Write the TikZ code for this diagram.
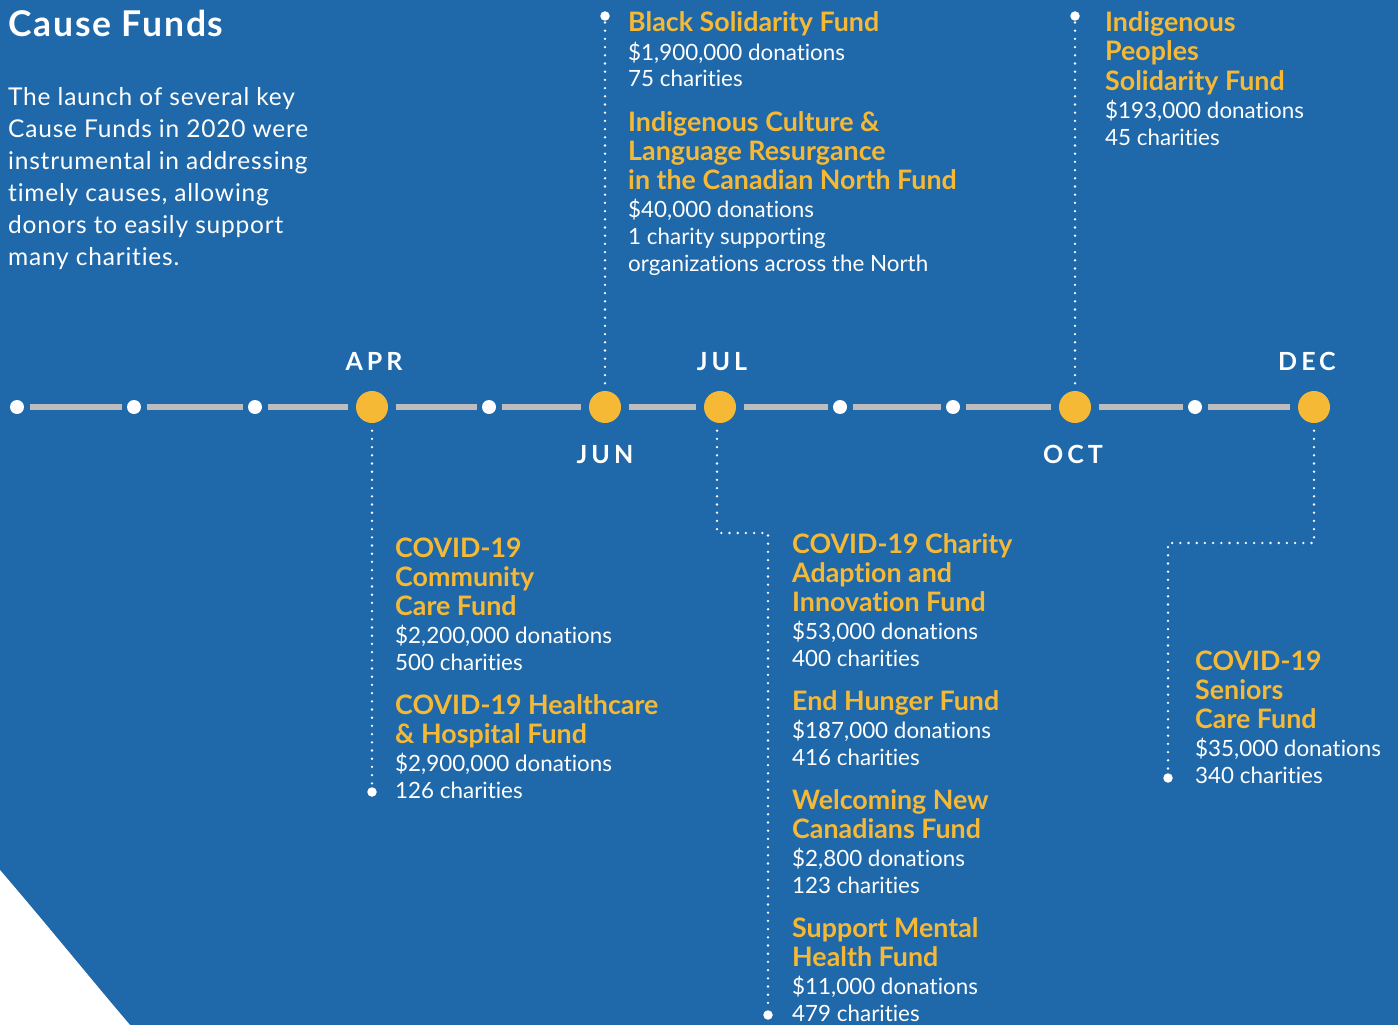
\documentclass[tikz,border=0pt]{standalone}
\usepackage{fontspec}
\setmainfont{Lato}[Ligatures=NoCommon]
\usepackage{tikz}
\definecolor{cfblue}{HTML}{1F68A9}
\definecolor{cfyellow}{HTML}{F5B935}
\definecolor{cfgray}{HTML}{BDBDBD}
\tikzset{
	wdot/.style={circle, fill=white, minimum size=14pt, inner sep=0pt, outer sep=5.5pt},
	ydot/.style={circle, fill=cfyellow, minimum size=32pt, inner sep=0pt, outer sep=7.7pt},
	enddot/.style={circle, fill=white, minimum size=9.5pt, inner sep=0pt},
	track/.style={cfgray, line width=5.3pt},
	dotline/.style={white, line width=2.6pt, line cap=round, dash pattern=on 0pt off 8.2pt},
	month/.style={text=white, inner sep=0pt, anchor=base, font=\fontsize{25}{30}\selectfont\bfseries\addfontfeature{LetterSpace=16}},
	ftitle/.style={text=cfyellow, inner sep=0pt, anchor=base west, font=\fontsize{26.8}{29}\selectfont\bfseries},
	fbody/.style={text=white, inner sep=0pt, anchor=base west, font=\fontsize{22.4}{27}\selectfont},
	intro/.style={text=white, inner sep=0pt, anchor=base west, font=\fontsize{24.5}{32}\selectfont\addfontfeature{LetterSpace=3.2}}
}

\begin{document}
\begin{tikzpicture}[x=1pt, y=-1pt]
\useasboundingbox (0,0) rectangle (1398,1025);
\fill[cfblue] (0,0) rectangle (1398,1025);
\fill[white] (0,870) .. controls (48,926) and (90,978) .. (130,1025) -- (0,1025) -- cycle;

\node[text=white, inner sep=0pt, anchor=base west, font=\fontsize{35.5}{38}\selectfont\bfseries\addfontfeature{LetterSpace=5}] (heading) at (8,37) {Cause Funds};
\path (8,105) node[intro] (in1) {The launch of several key}
	++(0,32) node[intro] (in2) {Cause Funds in 2020 were}
	++(0,32) node[intro] (in3) {instrumental in addressing}
	++(0,32) node[intro] (in4) {timely causes, allowing}
	++(0,32) node[intro] (in5) {donors to easily support}
	++(0,32) node[intro] (in6) {many charities.};

% timeline
\foreach \x/\n in {17/w1, 134/w2, 255/w3, 489/w4, 840/w5, 953/w6, 1195/w7} {
	\node[wdot] (\n) at (\x,407) {};
	};
\foreach \x/\n in {372/apr, 605/jun, 720/jul, 1075/oct, 1314/dec} {
	\node[ydot] (\n) at (\x,407) {};
	};
\foreach \a/\b in {w1/w2, w2/w3, w3/apr, apr/w4, w4/jun, jun/jul, jul/w5, w5/w6, w6/oct, oct/w7, w7/dec} {
	\draw[track] (\a) -- (\b);
	};
\node[month] (apr-l) at (374,370) {APR};
\node[month] (jun-l) at (605,463) {JUN};
\node[month] (jul-l) at (722,370) {JUL};
\node[month] (oct-l) at (1073,463) {OCT};
\node[month] (dec-l) at (1307,370) {DEC};

% dotted leaders
\node[enddot] (jun-end) at (605,16) {};
\node[enddot] (oct-end) at (1075,16) {};
\node[enddot] (apr-end) at (372,792) {};
\node[enddot] (jul-end) at (768,1015) {};
\node[enddot] (dec-end) at (1168,778) {};
\coordinate (jul-knee) at (768,533);
\coordinate (dec-knee) at (1168,543);
\draw[dotline] (jun) -- (jun-end);
\draw[dotline] (oct) -- (oct-end);
\draw[dotline] (apr) -- (apr-end);
\draw[dotline] ([xshift=-3pt]jul.south) |- (jul-knee) -- (jul-end);
\draw[dotline] (dec) |- (dec-knee) -- (dec-end);

% funds
\path (628,32) node[ftitle] (bsf1) {Black Solidarity Fund}
	++(0,28) node[fbody] (bsf2) {\$1,900,000 donations}
	++(0,27) node[fbody] (bsf3) {75 charities};
\path (628,131) node[ftitle] (icl1) {Indigenous Culture \&}
	++(0,29) node[ftitle] (icl2) {Language Resurgance}
	++(0,29) node[ftitle] (icl3) {in the Canadian North Fund}
	++(0,28) node[fbody] (icl4) {\$40,000 donations}
	++(0,27) node[fbody] (icl5) {1 charity supporting}
	++(0,27) node[fbody] (icl6) {organizations across the North};
\path (1105,32) node[ftitle] (ips1) {Indigenous}
	++(0,29) node[ftitle] (ips2) {Peoples}
	++(0,29) node[ftitle] (ips3) {Solidarity Fund}
	++(0,28) node[fbody] (ips4) {\$193,000 donations}
	++(0,27) node[fbody] (ips5) {45 charities};
\path (395,557) node[ftitle] (ccc1) {COVID-19}
	++(0,29) node[ftitle] (ccc2) {Community}
	++(0,29) node[ftitle] (ccc3) {Care Fund}
	++(0,28) node[fbody] (ccc4) {\$2,200,000 donations}
	++(0,27) node[fbody] (ccc5) {500 charities};
\path (395,714) node[ftitle] (chh1) {COVID-19 Healthcare}
	++(0,29) node[ftitle] (chh2) {\& Hospital Fund}
	++(0,28) node[fbody] (chh3) {\$2,900,000 donations}
	++(0,27) node[fbody] (chh4) {126 charities};
\path (792,553) node[ftitle] (cai1) {COVID-19 Charity}
	++(0,29) node[ftitle] (cai2) {Adaption and}
	++(0,29) node[ftitle] (cai3) {Innovation Fund}
	++(0,28) node[fbody] (cai4) {\$53,000 donations}
	++(0,27) node[fbody] (cai5) {400 charities};
\path (792,710) node[ftitle] (ehf1) {End Hunger Fund}
	++(0,28) node[fbody] (ehf2) {\$187,000 donations}
	++(0,27) node[fbody] (ehf3) {416 charities};
\path (792,809) node[ftitle] (wnc1) {Welcoming New}
	++(0,29) node[ftitle] (wnc2) {Canadians Fund}
	++(0,28) node[fbody] (wnc3) {\$2,800 donations}
	++(0,27) node[fbody] (wnc4) {123 charities};
\path (792,937) node[ftitle] (smh1) {Support Mental}
	++(0,29) node[ftitle] (smh2) {Health Fund}
	++(0,28) node[fbody] (smh3) {\$11,000 donations}
	++(0,27) node[fbody] (smh4) {479 charities};
\path (1195,670) node[ftitle] (csc1) {COVID-19}
	++(0,29) node[ftitle] (csc2) {Seniors}
	++(0,29) node[ftitle] (csc3) {Care Fund}
	++(0,28) node[fbody] (csc4) {\$35,000 donations}
	++(0,27) node[fbody] (csc5) {340 charities};
\end{tikzpicture}
\end{document}
